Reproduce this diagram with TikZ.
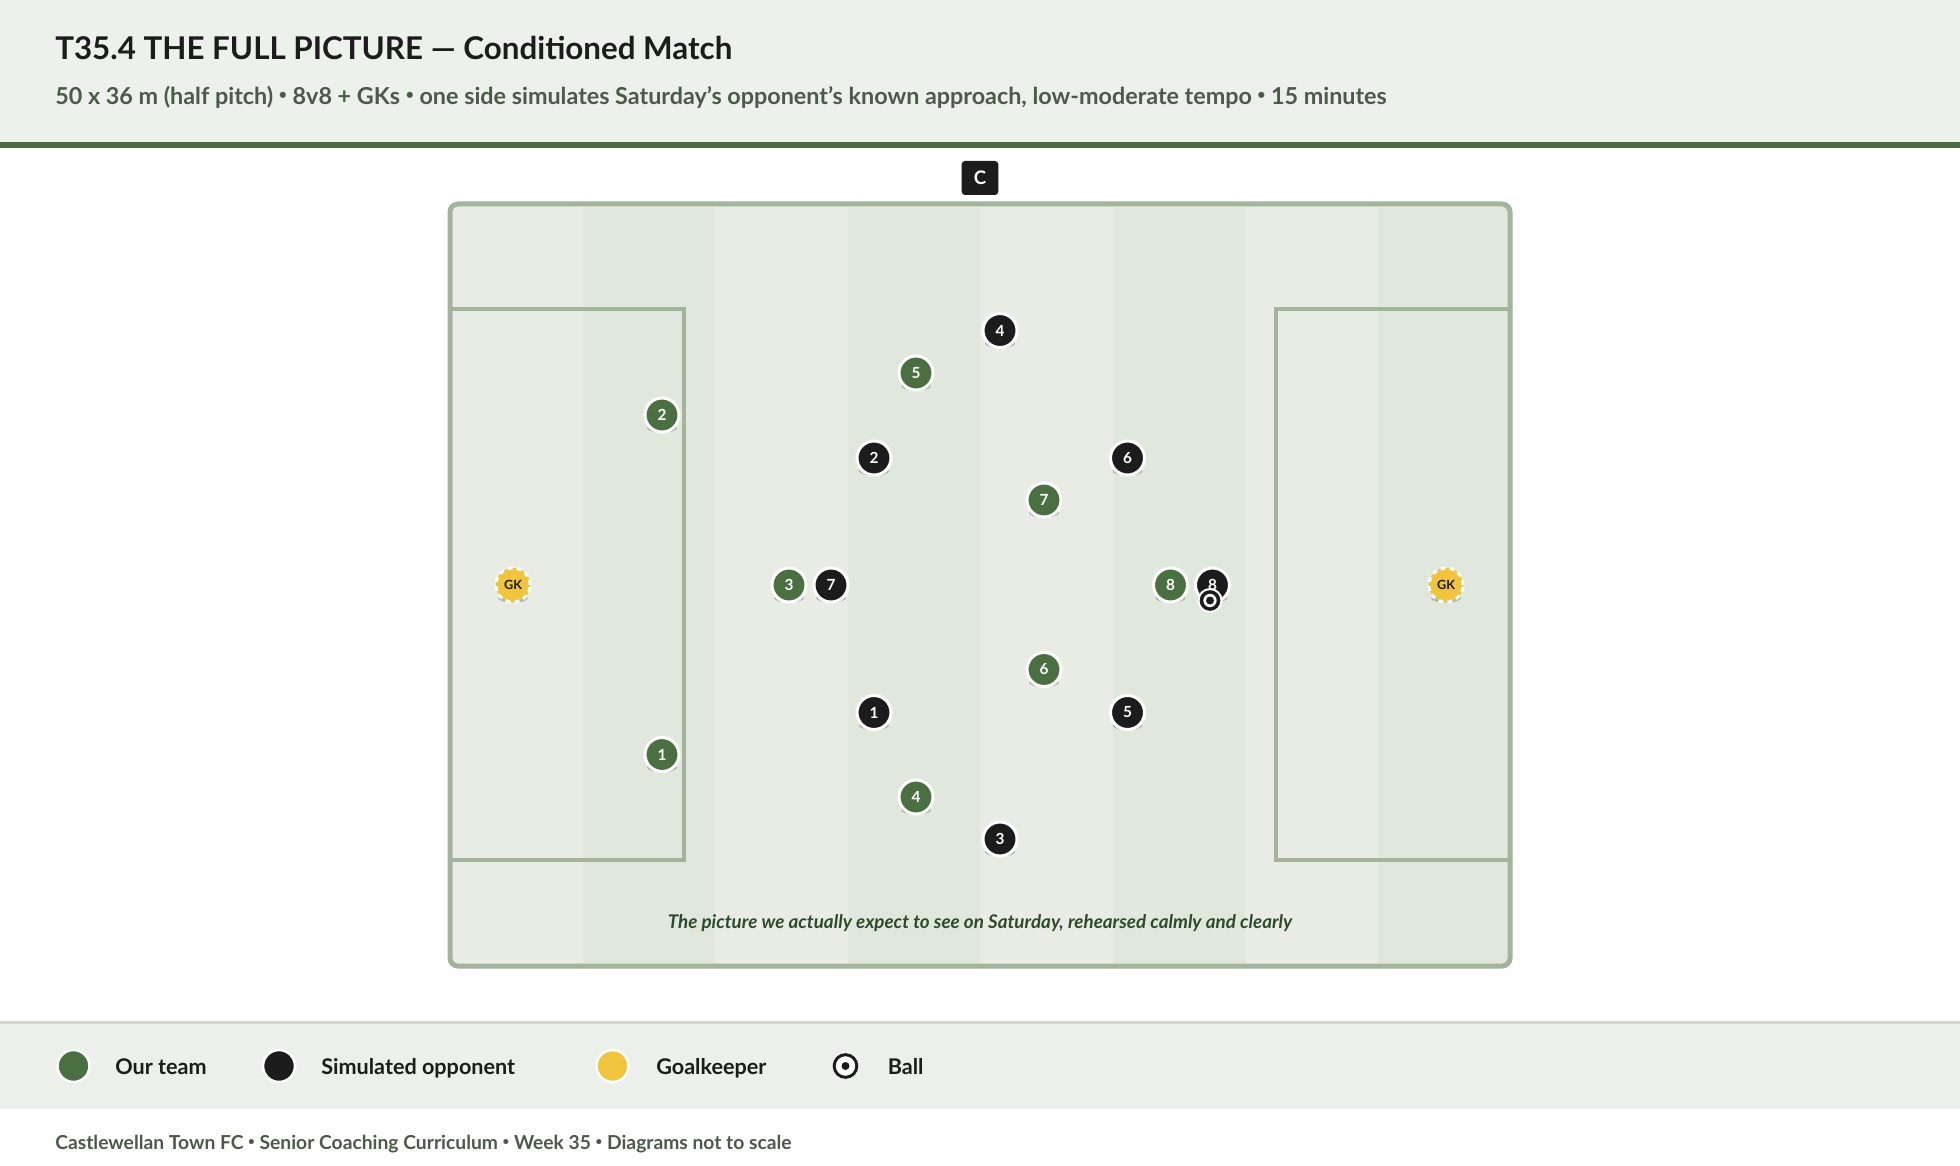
\documentclass[tikz,border=0pt]{standalone}
\usepackage{fontspec}
\setmainfont{Lato}
\definecolor{hdrbg}{HTML}{EDF1EC}
\definecolor{hdrbar}{HTML}{4A6B3D}
\definecolor{subtxt}{HTML}{4B5A49}
\definecolor{pitchlight}{HTML}{E8ECE5}
\definecolor{pitchdark}{HTML}{E0E7DD}
\definecolor{pline}{HTML}{A2B59C}
\definecolor{ourgreen}{HTML}{4A6F41}
\definecolor{oppblack}{HTML}{1C1C1C}
\definecolor{gkyellow}{HTML}{F0C43D}
\definecolor{legbg}{HTML}{ECF0EA}
\definecolor{legline}{HTML}{D6D6D0}
\definecolor{captxt}{HTML}{2E4A2A}
\newcommand\sepdot{\raisebox{0.2em}{\scalebox{0.6}{•}}}
\tikzset{
  x=0.75pt, y=-0.75pt,
  player/.style={circle, inner sep=0pt, minimum size=25.5pt, draw=white, line width=2.25pt,
    text=white, font=\bfseries\fontsize{11.5}{11.5}\selectfont},
  gkstyle/.style={circle, inner sep=0pt, minimum size=25.5pt, fill=gkyellow, draw=white,
    line width=2.25pt, dash pattern=on 3.6pt off 3.2pt, text=oppblack,
    font=\bfseries\fontsize{9.5}{9.5}\selectfont},
  tokshadow/.style={fill=black, opacity=0.22},
  legdot/.style={circle, inner sep=0pt, minimum size=24pt, draw=white, line width=1.9pt},
  legtext/.style={anchor=base west, inner sep=0pt, text=oppblack, font=\bfseries\fontsize{16.2}{18}\selectfont},
}
\begin{document}
\begin{tikzpicture}
\useasboundingbox (0,0) rectangle (1960,1166);
\fill[white] (0,0) rectangle (1960,1166);
% header
\fill[hdrbg] (0,0) rectangle (1960,142);
\fill[hdrbar] (0,142) rectangle (1960,148);
\node[anchor=base west, inner sep=0pt, text=oppblack, font=\bfseries\fontsize{23.5}{27}\selectfont] (title) at (55,59.5) {T35.4 THE FULL PICTURE — Conditioned Match};
\node[anchor=base west, inner sep=0pt, text=subtxt, font=\bfseries\fontsize{17.5}{20}\selectfont] (subtitle) at (55,104.5) {50 x 36 m (half pitch) \sepdot{} 8v8 + GKs \sepdot{} one side simulates Saturday's opponent's known approach, low-moderate tempo \sepdot{} 15 minutes};
% coach
\node[fill=oppblack, rounded corners=2.5pt, minimum width=27.5pt, minimum height=25.5pt, inner sep=0pt, text=white, font=\bfseries\fontsize{14}{14}\selectfont] (coach) at (980,178) {C};
% pitch
\begin{scope}
  \clip[rounded corners=6pt] (450,204) rectangle (1510,966);
  \fill[pitchlight] (450,204) rectangle (1510,966);
  \foreach \i in {1,3,5,7} {
    \fill[pitchdark] (450+\i*132.5,204) rectangle (450+\i*132.5+132.5,966);
  }
\end{scope}
\draw[pline, line width=3pt] (450,309) rectangle (684,860);
\draw[pline, line width=3pt] (1510,309) rectangle (1276,860);
\draw[pline, line width=3.75pt, rounded corners=6pt] (450,204) rectangle (1510,966);
\node[anchor=base, inner sep=0pt, text=captxt, font=\bfseries\itshape\fontsize{14.1}{16}\selectfont] (caption) at (980,928.5) {The picture we actually expect to see on Saturday, rehearsed calmly and clearly};
% goalkeepers
\foreach \nm/\x in {gkl/513, gkr/1446} {
  \fill[tokshadow] (\x,598) ellipse (15 and 4.5);
  \node[circle, fill=gkyellow, minimum size=25.5pt, inner sep=0pt] at (\x,585) {};
  \node[gkstyle] (\nm) at (\x,585) {GK};
}
% our team
\foreach \n/\x/\y in {2/662/415, 5/916/373, 7/1044/500, 3/789/585, 8/1170.5/585, 6/1044/669.5, 1/662/754.5, 4/916/797} {
  \fill[tokshadow] (\x,\y+13) ellipse (15 and 4.5);
  \node[player, fill=ourgreen] (g\n) at (\x,\y) {\n};
}
% opponents
\foreach \n/\x/\y in {4/1000/330.5, 2/874/458, 6/1127.5/458, 7/831/585, 8/1212.5/585, 1/874/712.5, 5/1127.5/712.5, 3/1000/839} {
  \fill[tokshadow] (\x,\y+13) ellipse (15 and 4.5);
  \node[player, fill=oppblack] (o\n) at (\x,\y) {\n};
}
% ball
\node[circle, fill=white, minimum size=18.75pt, inner sep=0pt] (ballring) at (1210,600.5) {};
\node[circle, fill=oppblack, minimum size=15.5pt, inner sep=0pt] (ballouter) at (1210,600.5) {};
\node[circle, fill=white, minimum size=10pt, inner sep=0pt] (ballinner) at (1210,600.5) {};
\node[circle, fill=oppblack, minimum size=6pt, inner sep=0pt] (ball) at (1210,600.5) {};
% legend
\fill[legbg] (0,1022) rectangle (1960,1109);
\fill[legline] (0,1021) rectangle (1960,1024);
\node[legdot, fill=ourgreen] (lg1) at (73.5,1066) {};
\node[legtext] (lt1) at (115,1074.5) {Our team};
\node[legdot, fill=oppblack] (lg2) at (279,1066) {};
\node[legtext] (lt2) at (321,1074.5) {Simulated opponent};
\node[legdot, fill=gkyellow] (lg3) at (612.5,1066) {};
\node[legtext] (lt3) at (656,1074.5) {Goalkeeper};
\node[circle, draw=oppblack, line width=2.2pt, fill=white, minimum size=17pt, inner sep=0pt] (lg4) at (845.5,1066) {};
\node[circle, fill=oppblack, minimum size=6pt, inner sep=0pt] (lg4dot) at (845.5,1066) {};
\node[legtext] (lt4) at (887.5,1074.5) {Ball};
% footer
\node[anchor=base west, inner sep=0pt, text=subtxt, font=\bfseries\fontsize{14.45}{16}\selectfont] (footer) at (55,1149) {Castlewellan Town FC \sepdot{} Senior Coaching Curriculum \sepdot{} Week 35 \sepdot{} Diagrams not to scale};
\end{tikzpicture}
\end{document}
